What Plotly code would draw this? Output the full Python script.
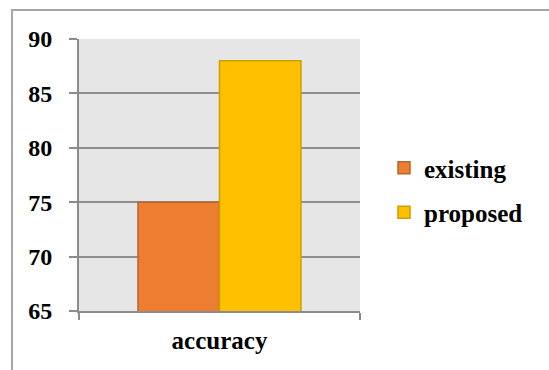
import plotly.graph_objects as go

# Data
categories = ["accuracy"]
series_names = ["existing", "proposed"]
existing_values = [75]
proposed_values = [88]

fill_colors = ["#ED7D31", "#FFC000"]
edge_colors = ["#B8652A", "#C9A000"]

W, H = 549, 370
# plot-area pixel box
L, R, T, B = 79, 360, 39, 311

fig = go.Figure()
for name, vals, fc, ec in zip(series_names, [existing_values, proposed_values],
                              fill_colors, edge_colors):
    fig.add_trace(go.Bar(
        x=categories, y=vals, name=name, legendgroup=name,
        marker=dict(color=fc, line=dict(color=ec, width=1.5)),
    ))

font_family = "'Times New Roman', 'Liberation Serif', serif"

def px_to_paper_x(px):
    return (px - L) / (R - L)

def px_to_paper_y(py):
    return (B - py) / (B - T)

fig.update_layout(
    width=W, height=H,
    margin=dict(l=L, r=W - R, t=T, b=H - B, pad=0),
    paper_bgcolor="white",
    plot_bgcolor="#E6E6E6",
    barmode="group",
    bargap=0.42,
    bargroupgap=0,
    font=dict(family=font_family, size=25, color="black", weight="bold"),
    showlegend=True,
    legend=dict(
        x=px_to_paper_x(384), xanchor="left",
        y=px_to_paper_y(190), yanchor="middle",
        font=dict(family=font_family, size=25, color="black", weight="bold"),
        traceorder="grouped",
        tracegroupgap=9,
        bgcolor="rgba(0,0,0,0)",
    ),
    xaxis=dict(
        type="category",
        range=[-0.5, 0.5],
        showgrid=False,
        showline=True, linecolor="#8C8C8C", linewidth=2,
        ticks="outside", tickson="boundaries", ticklen=7, tickwidth=2,
        tickcolor="#8C8C8C",
        ticklabelstandoff=6,
        tickfont=dict(family=font_family, size=25, color="black", weight="bold"),
        fixedrange=True,
    ),
    yaxis=dict(
        range=[65, 90],
        dtick=5, tick0=65,
        showgrid=True, gridcolor="#8E8E8E", gridwidth=2,
        zeroline=False,
        showline=True, linecolor="#8C8C8C", linewidth=2,
        ticks="outside", ticklen=8, tickwidth=2, tickcolor="#8C8C8C",
        ticklabelstandoff=12,
        tickfont=dict(family=font_family, size=24, color="black", weight="bold"),
        fixedrange=True,
    ),
)

# Outer chart frame (top and left edges)
fig.add_shape(
    type="path", xref="paper", yref="paper",
    path=(f"M {px_to_paper_x(12)},{px_to_paper_y(380)} "
          f"L {px_to_paper_x(12)},{px_to_paper_y(10)} "
          f"L {px_to_paper_x(560)},{px_to_paper_y(10)}"),
    line=dict(color="#A6A6A6", width=2),
    layer="above",
)

fig.write_html("out.html")
